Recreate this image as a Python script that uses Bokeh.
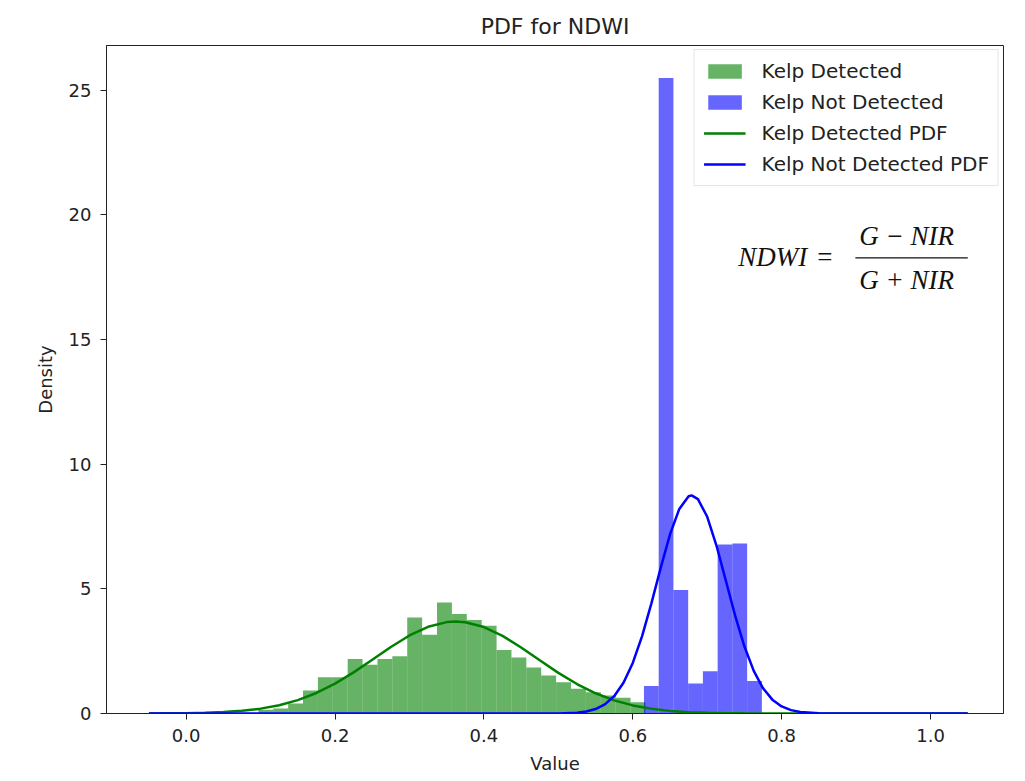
from bokeh.plotting import figure
from bokeh.models import Label, Legend, LegendItem, FixedTicker
from bokeh.embed import file_html
from bokeh.resources import INLINE

# ---- data ----
green_edges = [0.097, 0.117, 0.137, 0.157, 0.177, 0.197, 0.217, 0.237, 0.257, 0.277,
               0.297, 0.317, 0.337, 0.357, 0.377, 0.397, 0.417, 0.437, 0.457, 0.477,
               0.497, 0.517, 0.537, 0.557, 0.577, 0.597, 0.617]
green_density = [0.15, 0.2, 0.4, 0.92, 1.45, 1.45, 2.19, 1.96, 2.19, 2.3,
                 3.85, 3.16, 4.45, 3.99, 3.75, 3.52, 2.55, 2.25, 1.85, 1.52,
                 1.25, 0.99, 0.85, 0.72, 0.63, 0.45]

blue_edges = [0.615, 0.6348, 0.6546, 0.6744, 0.6942, 0.714, 0.7338, 0.7536, 0.7734]
blue_density = [1.1, 25.5, 4.95, 1.2, 1.7, 6.78, 6.82, 1.3]

green_pdf_x = [-0.05, -0.025, 0.0, 0.025, 0.05, 0.075, 0.1, 0.125, 0.15, 0.175,
               0.2, 0.225, 0.25, 0.275, 0.3, 0.325, 0.35, 0.362, 0.375, 0.4,
               0.425, 0.45, 0.475, 0.5, 0.525, 0.55, 0.575, 0.6, 0.625, 0.65,
               0.675, 0.7, 0.725, 0.75, 0.775, 0.8, 1.05]
green_pdf_y = [0.0, 0.006, 0.013, 0.028, 0.057, 0.108, 0.195, 0.332, 0.538, 0.824,
               1.2, 1.651, 2.155, 2.668, 3.13, 3.48, 3.667, 3.69, 3.663, 3.468,
               3.113, 2.648, 2.135, 1.631, 1.182, 0.811, 0.528, 0.325, 0.19, 0.105,
               0.055, 0.028, 0.013, 0.006, 0.002, 0.0, 0.0]

blue_pdf_x = [-0.05, 0.5, 0.525, 0.5375, 0.55, 0.5625, 0.575, 0.5875, 0.6, 0.6125,
              0.625, 0.6375, 0.65, 0.6625, 0.675, 0.679, 0.6875, 0.7, 0.7125, 0.725,
              0.7375, 0.75, 0.7625, 0.775, 0.7875, 0.8, 0.8125, 0.825, 0.85, 0.875,
              1.05]
blue_pdf_y = [0.0, 0.005, 0.034, 0.08, 0.178, 0.364, 0.695, 1.231, 2.028, 3.105,
              4.42, 5.845, 7.185, 8.209, 8.717, 8.75, 8.603, 7.892, 6.728, 5.33,
              3.925, 2.686, 1.709, 1.01, 0.555, 0.283, 0.135, 0.059, 0.009, 0.001,
              0.0]

x_ticks = [0.0, 0.2, 0.4, 0.6, 0.8, 1.0]
y_ticks = [0, 5, 10, 15, 20, 25]

series_labels = ["Kelp Detected", "Kelp Not Detected", "Kelp Detected PDF", "Kelp Not Detected PDF"]

FONT = "DejaVu Sans"

p = figure(width=1025, height=781, x_range=(-0.107, 1.098), y_range=(0, 26.8),
           output_backend="svg", toolbar_location=None, title="PDF for NDWI",
           min_border_left=106, min_border_right=22, min_border_top=45, min_border_bottom=68)

p.title.align = "center"
p.title.text_font = FONT
p.title.text_font_size = "22px"
p.title.text_font_style = "normal"
p.title.text_color = "#222222"
p.title.standoff = 13

g_hist = p.quad(left=green_edges[:-1], right=green_edges[1:], top=green_density, bottom=0,
                fill_color="#008000", fill_alpha=0.6, line_color=None)
b_hist = p.quad(left=blue_edges[:-1], right=blue_edges[1:], top=blue_density, bottom=0,
                fill_color="#0000ff", fill_alpha=0.6, line_color=None)
g_line = p.line(green_pdf_x, green_pdf_y, line_color="#008000", line_width=2.5)
b_line = p.line(blue_pdf_x, blue_pdf_y, line_color="#0000ff", line_width=2.5)

legend = Legend(items=[
    LegendItem(label=series_labels[0], renderers=[g_hist]),
    LegendItem(label=series_labels[1], renderers=[b_hist]),
    LegendItem(label=series_labels[2], renderers=[g_line]),
    LegendItem(label=series_labels[3], renderers=[b_line]),
], location="top_right")
legend.label_text_font = FONT
legend.label_text_font_size = "20px"
legend.label_text_color = "#222222"
legend.glyph_width = 42
legend.glyph_height = 18
legend.label_height = 18
legend.spacing = 7
legend.padding = 9
legend.margin = 4
legend.label_standoff = 16
legend.border_line_color = "#cccccc"
legend.border_line_width = 1
legend.background_fill_alpha = 0.85
p.add_layout(legend)

# formula annotation
formula_font = "Liberation Serif"
for txt, xx, yy in [("NDWI", 0.788, 18.3), ("=", 0.858, 18.3),
                    ("G  \u2212  NIR", 0.977, 19.15), ("G  +  NIR", 0.977, 17.4)]:
    p.add_layout(Label(x=xx, y=yy, text=txt, text_align="center", text_baseline="middle",
                       text_font=formula_font, text_font_style="italic" if txt != "=" else "normal",
                       text_font_size="27px", text_color="#111111"))
p.segment(x0=[0.899], y0=[18.28], x1=[1.050], y1=[18.28], line_color="#111111", line_width=1.3)

# axes styling
for ax in (p.xaxis[0], p.yaxis[0]):
    ax.major_label_text_font = FONT
    ax.major_label_text_font_size = "18px"
    ax.major_label_text_color = "#222222"
    ax.axis_label_text_font = FONT
    ax.axis_label_text_font_size = "18px"
    ax.axis_label_text_font_style = "normal"
    ax.axis_label_text_color = "#222222"
    ax.minor_tick_line_color = None
    ax.major_tick_out = 6
    ax.major_tick_in = 0
    ax.major_tick_line_color = "#222222"
    ax.axis_line_color = "#222222"

p.xaxis.ticker = FixedTicker(ticks=x_ticks)
p.yaxis.ticker = FixedTicker(ticks=y_ticks)
p.xaxis.major_label_overrides = {t: f"{t:.1f}" for t in x_ticks}
p.xaxis.axis_label = "Value"
p.yaxis.axis_label = "Density"
p.xaxis.major_label_standoff = 9
p.yaxis.major_label_standoff = 9
p.xaxis.axis_label_standoff = 8
p.yaxis.axis_label_standoff = 10

p.xgrid.visible = False
p.ygrid.visible = False
p.outline_line_color = "#222222"
p.outline_line_width = 1
p.background_fill_color = "white"
p.border_fill_color = "white"

open("out.html", "w").write(file_html(p, INLINE))
